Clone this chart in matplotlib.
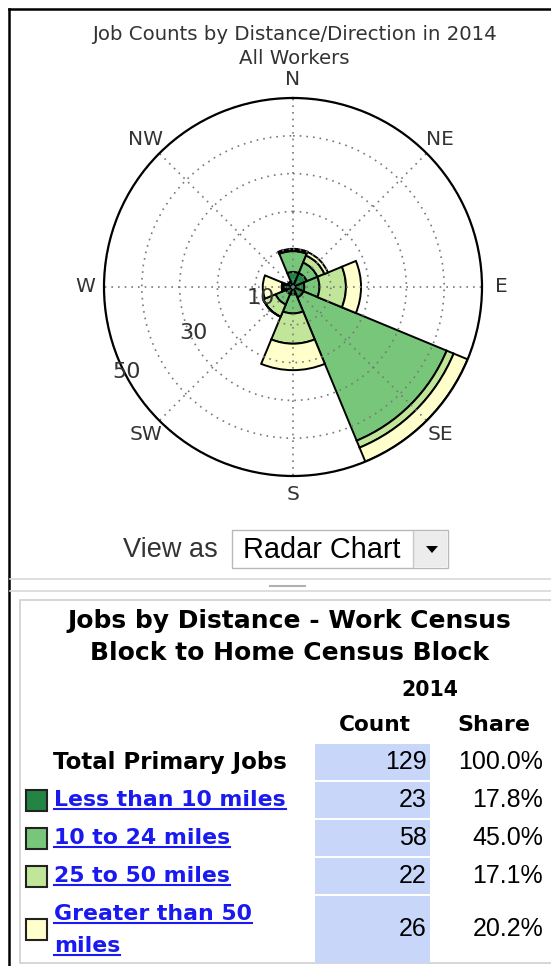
import numpy as np
import matplotlib
matplotlib.use("Agg")
import matplotlib.pyplot as plt
from matplotlib.patches import Rectangle, Polygon
from matplotlib.lines import Line2D

# ---------------- data ----------------
directions = ['N', 'NE', 'E', 'SE', 'S', 'SW', 'W', 'NW']
lt10   = [4, 4, 3, 3, 2, 2, 2, 1.5]
d10_24 = [5.5, 3, 4, 41, 5, 3, 0.5, 0]
d25_50 = [0.3, 2, 7, 2, 8, 3.5, 0.5, 0]
gt50   = [0.3, 1, 4, 4, 7, 0, 5, 0]
series = [lt10, d10_24, d25_50, gt50]
colors = ['#238443', '#78c679', '#c2e699', '#ffffcc']
r_ticks = [10, 20, 30, 40, 50]
r_ticklabels = ['10', '', '30', '', '50']

table_labels = [['Less than 10 miles'], ['10 to 24 miles'], ['25 to 50 miles'],
                ['Greater than 50', 'miles']]
counts = [23, 58, 22, 26]
total = 129
year = '2014'

W, H = 551, 966
fig = plt.figure(figsize=(W / 100, H / 100), dpi=100)
fig.patch.set_facecolor('white')

def fx(x):
    return x / W

def fy(y):
    return 1 - y / H

# ---------------- page frame ----------------
fig.add_artist(Line2D([fx(9), fx(9)], [fy(9), fy(966)], color='black', lw=1.8))
fig.add_artist(Line2D([fx(9), fx(551)], [fy(9), fy(9)], color='black', lw=1.8))

# ---------------- polar chart ----------------
cx, cy, R = 293, 287, 189
ax = fig.add_axes([fx(cx - R), fy(cy + R), 2 * R / W, 2 * R / H], projection='polar')
ax.set_theta_zero_location('N')
ax.set_theta_direction(-1)
theta = np.radians(np.arange(len(directions)) * 45)
width = np.radians(45)
bottom = np.zeros(len(directions))
for vals, col in zip(series, colors):
    ax.bar(theta, vals, width=width, bottom=bottom, color=col, edgecolor='black',
           linewidth=1.4, align='center', zorder=1)
    bottom = bottom + np.array(vals)
ax.set_ylim(0, 50)
ax.set_yticks(r_ticks)
ax.set_yticklabels([])
ax.set_xticks(theta)
ax.set_xticklabels([])
ax.grid(True, color='#787878', linestyle=(0, (1, 3)), linewidth=1.2)
ax.spines['polar'].set_linewidth(1.6)
ax.spines['polar'].set_color('black')
for ang, lab in zip(theta, directions):
    ax.text(ang, 55, lab, ha='center', va='center', fontsize=14.5, color='#333333')
label_pos = {10: (251, 9), 30: (245, 29), 50: (243, 49.5)}
for rv, lab in zip(r_ticks, r_ticklabels):
    if lab:
        ang, rr = label_pos[rv]
        ax.text(np.radians(ang), rr, lab, ha='center', va='center', fontsize=16,
                color='#333333', zorder=6)

fig.text(fx(294), fy(35), 'Job Counts by Distance/Direction in 2014', ha='center', va='center',
         fontsize=14.2, color='#333333')
fig.text(fx(294), fy(58), 'All Workers', ha='center', va='center', fontsize=14.2, color='#333333')

# ---------------- view-as control ----------------
fig.text(fx(123), fy(550), 'View as', ha='left', va='center', fontsize=19.5,
         family='Liberation Sans', color='#333333')
fig.add_artist(Rectangle((fx(232), fy(568)), (448 - 232) / W, 38 / H, facecolor='white',
                         edgecolor='#b8b8b8', lw=1.0))
fig.add_artist(Rectangle((fx(413), fy(567)), (447 - 413) / W, 36 / H, facecolor='#ececec',
                         edgecolor='none'))
fig.add_artist(Line2D([fx(413), fx(413)], [fy(531), fy(567)], color='#c8c8c8', lw=1))
fig.add_artist(Polygon([[fx(426), fy(546)], [fx(438), fy(546)], [fx(432), fy(553)]],
                       closed=True, facecolor='black', edgecolor='none'))
fig.text(fx(243), fy(550), 'Radar Chart', ha='left', va='center', fontsize=20.8,
         family='Liberation Sans', color='black')

# separator
fig.add_artist(Line2D([fx(10), fx(551)], [fy(579), fy(579)], color='#d8d8d8', lw=1.2))
fig.add_artist(Line2D([fx(10), fx(551)], [fy(591), fy(591)], color='#d8d8d8', lw=1.2))
fig.add_artist(Line2D([fx(270), fx(305)], [fy(586), fy(586)], color='#b0b0b0', lw=1.5))

# ---------------- table ----------------
fig.add_artist(Rectangle((fx(20), fy(963)), (560 - 20) / W, (963 - 600) / H, facecolor='white',
                         edgecolor='#d0d0d0', lw=1.2))
bold = dict(fontweight='bold', family='DejaVu Sans', color='black')
fig.text(fx(289), fy(621), 'Jobs by Distance - Work Census', ha='center', va='center',
         fontsize=18, **bold)
fig.text(fx(289), fy(653), 'Block to Home Census Block', ha='center', va='center',
         fontsize=18, **bold)
fig.text(fx(430), fy(690), year, ha='center', va='center', fontsize=14.8, **bold)
fig.text(fx(375), fy(725), 'Count', ha='center', va='center', fontsize=15.6, **bold)
fig.text(fx(494), fy(725), 'Share', ha='center', va='center', fontsize=16, **bold)

row_tops = [744, 782, 820, 858, 896]
row_bots = [780, 818, 856, 894, 963]
cell_color = '#c8d6fa'
for t, b in zip(row_tops, row_bots):
    fig.add_artist(Rectangle((fx(315), fy(b)), (430 - 315) / W, (b - t) / H,
                             facecolor=cell_color, edgecolor='none'))

num = dict(family='Liberation Sans', fontsize=18, color='black')
fig.text(fx(53), fy(762), 'Total Primary Jobs', ha='left', va='center', fontsize=16.5, **bold)
fig.text(fx(427), fy(762), f'{total}', ha='right', va='center', **num)
fig.text(fx(543), fy(762), f'{100 * total / total:.1f}%', ha='right', va='center', **num)

link_color = '#1a1af0'
link_texts = []
for i, (lab, c, col) in enumerate(zip(table_labels, counts, colors)):
    yc = (row_tops[i + 1] + row_bots[i + 1]) / 2
    sq = 21
    fig.add_artist(Rectangle((fx(26), fy(yc + sq / 2)), sq / W, sq / H, facecolor=col,
                             edgecolor='#222222', lw=1.5))
    if len(lab) == 1:
        ys = [yc]
    else:
        ys = [yc - 16, yc + 16]
    for line, yy in zip(lab, ys):
        t = fig.text(fx(54), fy(yy), line, ha='left', va='center', fontsize=15.8,
                     fontweight='bold', family='DejaVu Sans', color=link_color)
        link_texts.append(t)
    fig.text(fx(427), fy(yc), f'{c}', ha='right', va='center', **num)
    fig.text(fx(543), fy(yc), f'{100 * c / total:.1f}%', ha='right', va='center', **num)

fig.canvas.draw()
renderer = fig.canvas.get_renderer()
for t in link_texts:
    bb = t.get_window_extent(renderer)
    yline = bb.y0 + 1
    fig.add_artist(Line2D([bb.x0 / W, bb.x1 / W], [yline / H, yline / H],
                          color=link_color, lw=1.5))

fig.savefig('out.png', dpi=100, facecolor='white')
